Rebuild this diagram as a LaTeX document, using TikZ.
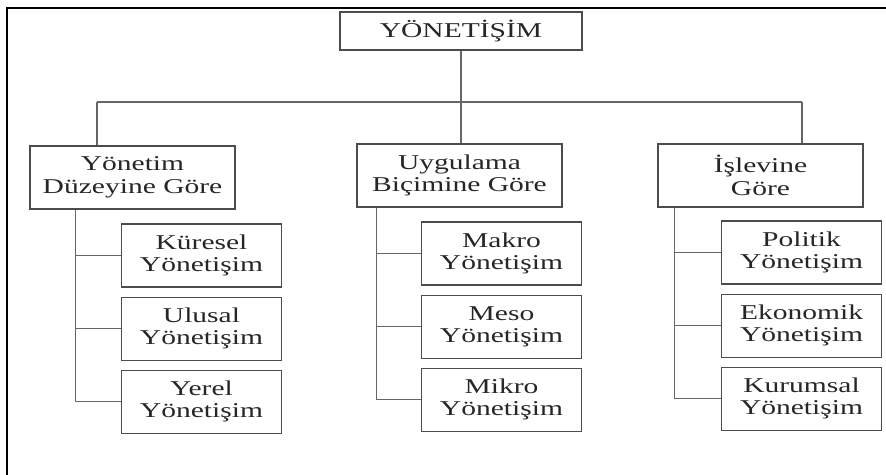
\documentclass[tikz,border=0pt]{standalone}
\usepackage{fontspec}
\setmainfont{Liberation Serif}[FakeStretch=1.4]
\usetikzlibrary{positioning, calc}
\tikzstyle{root} = [rectangle, minimum width=7.26cm, minimum height=1.14cm, text centered, draw=black!70, line width=0.9pt, text=black!85, font=\fontsize{18}{18.5}\selectfont]
\tikzstyle{group} = [rectangle, minimum width=6.15cm, minimum height=1.89cm, align=center, draw=black!70, line width=0.9pt, text=black!85, font=\fontsize{18}{19.5}\selectfont]
\tikzstyle{leaf} = [rectangle, minimum width=4.8cm, minimum height=1.89cm, align=center, draw=black!70, line width=0.9pt, text=black!85, font=\fontsize{18}{18.5}\selectfont]
\tikzstyle{link} = [black!60, line width=0.9pt]
\tikzstyle{frame} = [black, line width=2.2pt]

\begin{document}
\begin{tikzpicture}[x=0.03cm, y=-0.03cm, node distance=0.27cm]
  \useasboundingbox (0,0) rectangle (886,475);
  \draw [frame] (7,476) -- (7,8) -- (887,8);

  \node (root) [root] at (461,31) {YÖNETİŞİM};

  \node (gL) [group] at (132.5,177.5) {Yönetim \\ Düzeyine Göre};
  \node (gM) [group] at (459.5,175.5) {Uygulama \\ Biçimine Göre};
  \node (gR) [group] at (760.5,175.5) {İşlevine \\ Göre};

  \node (kur) [leaf] at (201.5,255.5) {Küresel \\ Yönetişim};
  \node (ulu) [leaf, below=of kur] {Ulusal \\ Yönetişim};
  \node (yer) [leaf, below=of ulu] {Yerel \\ Yönetişim};

  \node (mak) [leaf] at (501.5,253.5) {Makro \\ Yönetişim};
  \node (mes) [leaf, below=of mak] {Meso \\ Yönetişim};
  \node (mik) [leaf, below=of mes] {Mikro \\ Yönetişim};

  \node (pol) [leaf] at (801.5,252.5) {Politik \\ Yönetişim};
  \node (eko) [leaf, below=of pol] {Ekonomik \\ Yönetişim};
  \node (krm) [leaf, below=of eko] {Kurumsal \\ Yönetişim};

  \coordinate (barL) at (97,102);
  \coordinate (barR) at (802,102);
  \coordinate (spL) at ($(gL.south west)+(46,0)$);
  \coordinate (spM) at ($(gM.south west)+(20,0)$);
  \coordinate (spR) at ($(gR.south west)+(17,0)$);

  \draw [link] (root.south) -- (root.south |- gM.north);
  \draw [link] (barL) -- (barR);
  \draw [link] (barL) -- (barL |- gL.north);
  \draw [link] (barR) -- (barR |- gR.north);

  \draw [link] (spL) |- (yer.west);
  \draw [link] (spL |- kur.west) -- (kur.west);
  \draw [link] (spL |- ulu.west) -- (ulu.west);
  \draw [link] (spM) |- (mik.west);
  \draw [link] (spM |- mak.west) -- (mak.west);
  \draw [link] (spM |- mes.west) -- (mes.west);
  \draw [link] (spR) |- (krm.west);
  \draw [link] (spR |- pol.west) -- (pol.west);
  \draw [link] (spR |- eko.west) -- (eko.west);
\end{tikzpicture}
\end{document}
